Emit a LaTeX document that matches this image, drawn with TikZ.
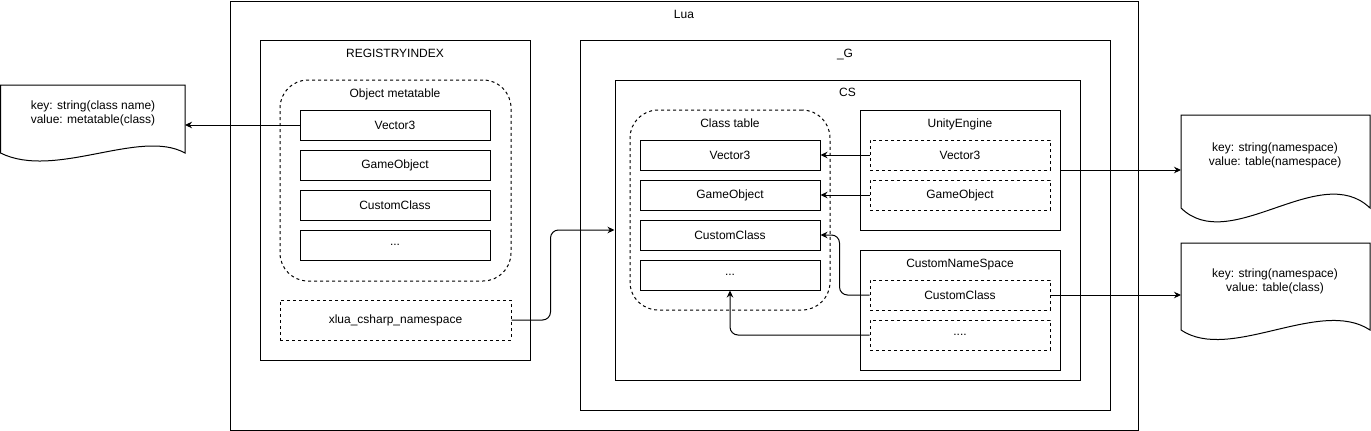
\documentclass[tikz,border=0pt]{standalone}
\usepackage{fontspec}
\setmainfont{Liberation Sans}
\usetikzlibrary{arrows.meta}

\begin{document}
\begin{tikzpicture}[x=1pt, y=-1pt, line width=1pt,
    every node/.style={font=\fontsize{12}{14}\selectfont},
    frame/.style={draw, rectangle, inner sep=0pt},
    cell/.style={frame, minimum width=#1, minimum height=30pt},
    dcell/.style={cell=#1, dash pattern=on 3pt off 3pt},
    group/.style={draw, rectangle, inner sep=0pt, rounded corners=28pt, dash pattern=on 3pt off 3pt},
    title/.style={inner sep=0pt, text height=9pt, text depth=2.5pt},
    arr/.style={-{Stealth[length=7pt,width=6.5pt]}}]
\useasboundingbox (0,0) rectangle (1371,431);
% Draw outer tables
\node[frame, minimum width=908pt, minimum height=429pt] (lua) at (684,215.5) {};
\node[title] (luaT) at (684,15) {Lua};
\node[frame, minimum width=270pt, minimum height=320pt] (reg) at (395,200) {};
\node[title] (regT) at (395,54) {REGISTRYINDEX};
\node[frame, minimum width=530pt, minimum height=370pt] (g) at (845,225) {};
\node[title] (gT) at (845,54) {\_G};
\node[frame, minimum width=465pt, minimum height=300pt] (cs) at (847.5,230) {};
\node[title] (csT) at (847.5,93) {CS};
% Draw object metatable
\node[group, minimum width=231pt, minimum height=201pt] (om) at (395.5,180.5) {};
\node[title] (omT) at (395,94) {Object metatable};
\foreach \n/\t/\y in {omVec/Vector3/125, omGO/GameObject/165, omCC/CustomClass/205}
    \node[cell=190pt] (\n) at (395,\y) {\t};
\node[cell=190pt] (omDots) at (395,245) {...};
\node[dcell=231pt, minimum height=40pt] (xlua) at (395.5,320) {xlua\_csharp\_namespace};
% Draw class table
\node[group, minimum width=200pt, minimum height=200pt] (ct) at (730,210) {};
\node[title] (ctT) at (730,124) {Class table};
\foreach \n/\t/\y in {ctVec/Vector3/155, ctGO/GameObject/195, ctCC/CustomClass/235}
    \node[cell=180pt] (\n) at (730,\y) {\t};
\node[cell=180pt] (ctDots) at (730,275) {...};
% Draw namespaces
\node[frame, minimum width=200pt, minimum height=120pt] (ue) at (960,170) {};
\node[title] (ueT) at (960,124) {UnityEngine};
\node[dcell=180pt] (ueVec) at (960,155) {Vector3};
\node[dcell=180pt] (ueGO) at (960,195) {GameObject};
\node[frame, minimum width=200pt, minimum height=120pt] (cns) at (960,310) {};
\node[title] (cnsT) at (960,264) {CustomNameSpace};
\node[dcell=180pt] (cnsCC) at (960,295) {CustomClass};
\node[dcell=180pt] (cnsDots) at (960,335) {....};
% Draw documents
\draw (0.5,85) -- (185,85) -- (185,153) .. controls (140,128) and (55,180) .. (0.5,153) -- cycle;
\node[align=center] (docL) at (93,113.5) {key: string(class name)\\value: metatable(class)};
\coordinate (docLE) at (185,125);
\draw (1181,115) -- (1370,115) -- (1370,208) .. controls (1320,160) and (1230,256) .. (1181,208) -- cycle;
\node[align=center] (docR1) at (1275,155) {key: string(namespace)\\value: table(namespace)};
\coordinate (docR1W) at (1181,170);
\draw (1181,243) -- (1370,243) -- (1370,330) .. controls (1320,297) and (1230,363) .. (1181,330) -- cycle;
\node[align=center] (docR2) at (1275,281) {key: string(namespace)\\value: table(class)};
\coordinate (docR2W) at (1181,295);
% Draw connectors
\draw[arr] (omVec.west) -- (docLE);
\draw[arr, rounded corners=8pt] (xlua.east) -- ++(39,0) |- (cs.west);
\draw[arr] (ueVec.west) -- (ctVec.east);
\draw[arr] (ueGO.west) -- (ctGO.east);
\draw[arr] (ue.east) -- (docR1W);
\draw[arr, rounded corners=8pt] (cnsCC.west) -- ++(-30,0) |- (ctCC.east);
\draw[arr, rounded corners=8pt] (cnsDots.west) -| (ctDots.south);
\draw[arr] (cnsCC.east) -- (docR2W);
\end{tikzpicture}
\end{document}
